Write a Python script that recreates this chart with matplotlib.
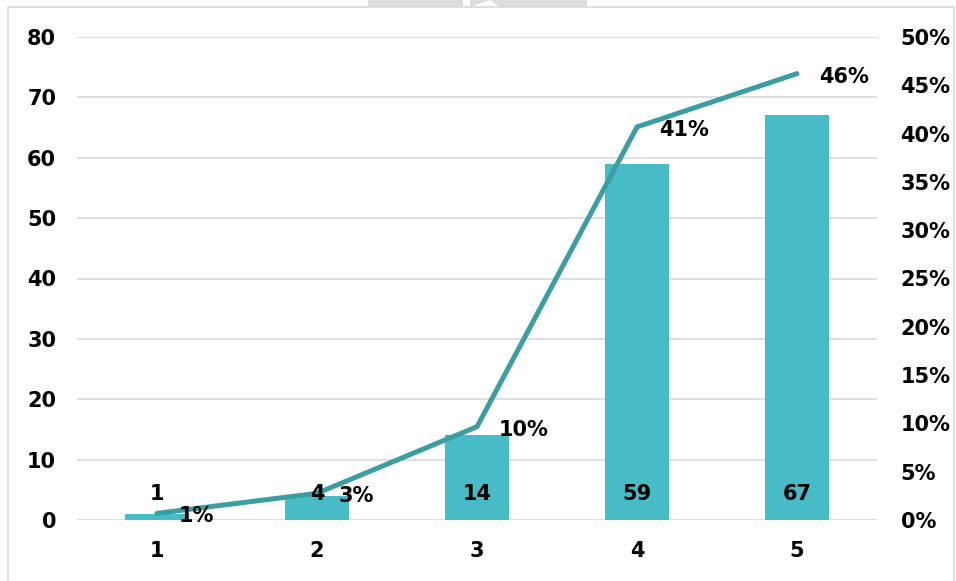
import matplotlib.pyplot as plt
from matplotlib.patches import Rectangle, Polygon

plt.rcParams['font.family'] = ['DejaVu Sans']
plt.rcParams['font.weight'] = 'bold'
plt.rcParams['font.size'] = 15

categories = ['1', '2', '3', '4', '5']
counts = [1, 4, 14, 59, 67]
shares = [0.0069, 0.0276, 0.0966, 0.4069, 0.4621]
share_labels = ['1%', '3%', '10%', '41%', '46%']
left_ticks = [0, 10, 20, 30, 40, 50, 60, 70, 80]
right_ticks = [0, 0.05, 0.10, 0.15, 0.20, 0.25, 0.30, 0.35, 0.40, 0.45, 0.50]

bar_color = '#48BCC6'
line_color = '#3A9EA2'
grid_color = '#D9D9D9'

W, H = 956, 581
fig = plt.figure(figsize=(W / 100, H / 100), dpi=100)

# faded header bits and the outer frame
fig.patches.append(Rectangle((368 / W, 1 - 7 / H), 95 / W, 7 / H, transform=fig.transFigure,
                             facecolor='#DCDCDC', edgecolor='none'))
fig.patches.append(Polygon([(470 / W, 1 - 7 / H), (470 / W, 1), (587 / W, 1), (587 / W, 1 - 7 / H),
                            (500 / W, 1 - 7 / H), (490 / W, 1)], closed=True, transform=fig.transFigure,
                           facecolor='#DCDCDC', edgecolor='none'))
fig.patches.append(Rectangle((8 / W, -0.01), 946 / W, 1 - 7 / H + 0.01, transform=fig.transFigure,
                             facecolor='none', edgecolor=grid_color, linewidth=1.2))

ax = fig.add_axes([77 / W, 61 / H, 800 / W, 483 / H])
x = list(range(1, len(categories) + 1))
ax.bar(x, counts, width=0.4, color=bar_color, zorder=2)
ax.set_xlim(0.5, len(categories) + 0.5)
ax.set_ylim(0, 80)
ax.set_yticks(left_ticks)
ax.set_xticks(x)
ax.set_xticklabels(categories)
ax.grid(axis='y', color=grid_color, linewidth=1.2, zorder=0)
ax.set_axisbelow(True)
for s in ax.spines.values():
    s.set_visible(False)
ax.tick_params(axis='y', length=0, pad=15)
ax.tick_params(axis='x', length=0, pad=15)

ax2 = ax.twinx()
ax2.plot(x, shares, color=line_color, linewidth=3.6, solid_capstyle='round', zorder=3)
ax2.set_ylim(0, 0.5)
ax2.set_yticks(right_ticks)
ax2.set_yticklabels([f'{int(round(t * 100))}%' for t in right_ticks])
for s in ax2.spines.values():
    s.set_visible(False)
ax2.tick_params(axis='y', length=0, pad=17)

for xi, c in zip(x, counts):
    ax2.annotate(str(c), xy=(xi, 0), xytext=(0, 26), textcoords='offset pixels',
                 ha='center', va='center', zorder=5)
for xi, s, lab in zip(x, shares, share_labels):
    ax2.annotate(lab, xy=(xi, s), xytext=(22, -3), textcoords='offset pixels',
                 ha='left', va='center', zorder=5)

fig.savefig('out.png', dpi=100)
